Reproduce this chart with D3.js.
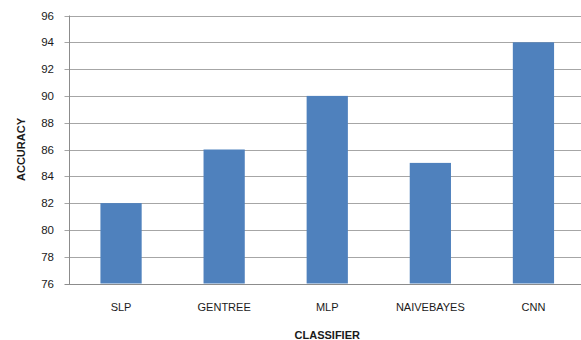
<!DOCTYPE html>
<html>
<head>
<meta charset="utf-8">
<script src="https://cdn.jsdelivr.net/npm/d3@7"></script>
<style>
html,body{margin:0;padding:0;background:#fff;}
svg{display:block;}
text{font-family:"Liberation Sans","DejaVu Sans",sans-serif;fill:#1a1a1a;}
</style>
</head>
<body>
<svg id="chart" width="581" height="340"></svg>
<script>
const categories = ["SLP", "GENTREE", "MLP", "NAIVEBAYES", "CNN"];
const accuracy = [82, 86, 90, 85, 94];
const yTicks = [76, 78, 80, 82, 84, 86, 88, 90, 92, 94, 96];
const xTitle = "CLASSIFIER";
const yTitle = "ACCURACY";

(function () {
const svg = d3.select("#chart");
const pL = 69.5, pR = 585, pT = 15.5, pB = 283.5;

const x = d3.scaleBand().domain(categories).range([pL, pR]).paddingInner(0.6).paddingOuter(0.3);
const y = d3.scaleLinear().domain([76, 96]).range([pB, pT]);

// gridlines
svg.append("g").selectAll("line").data(yTicks).join("line")
  .attr("x1", pL - 5).attr("x2", pR)
  .attr("y1", d => Math.round(y(d)) + 0.5).attr("y2", d => Math.round(y(d)) + 0.5)
  .attr("stroke", d => d === 76 ? "#8c8c8c" : "#a6a6a6").attr("stroke-width", 1);

// bars
svg.append("g").selectAll("rect").data(categories).join("rect")
  .attr("x", d => x(d))
  .attr("width", x.bandwidth())
  .attr("y", (d, i) => y(accuracy[i]))
  .attr("height", (d, i) => y(76) - y(accuracy[i]))
  .attr("fill", "#4f81bd");

// y axis line
svg.append("line").attr("x1", pL).attr("x2", pL).attr("y1", pT).attr("y2", pB + 0.5)
  .attr("stroke", "#8c8c8c").attr("stroke-width", 1);

// y tick labels
svg.append("g").selectAll("text").data(yTicks).join("text")
  .attr("x", 54).attr("y", d => y(d)).attr("dy", "0.35em")
  .attr("text-anchor", "end").attr("font-size", 11.5).text(d => d);

// x labels
svg.append("g").selectAll("text").data(categories).join("text")
  .attr("x", d => x(d) + x.bandwidth() / 2).attr("y", 311)
  .attr("text-anchor", "middle").attr("font-size", 11).text(d => d);

// axis titles
svg.append("text").attr("x", (pL + pR) / 2).attr("y", 339)
  .attr("text-anchor", "middle").attr("font-size", 11).attr("font-weight", "bold").text(xTitle);
svg.append("text").attr("transform", `translate(25,${(pT + pB) / 2}) rotate(-90)`)
  .attr("text-anchor", "middle").attr("font-size", 11).attr("font-weight", "bold").text(yTitle);
})();
</script>
</body>
</html>
